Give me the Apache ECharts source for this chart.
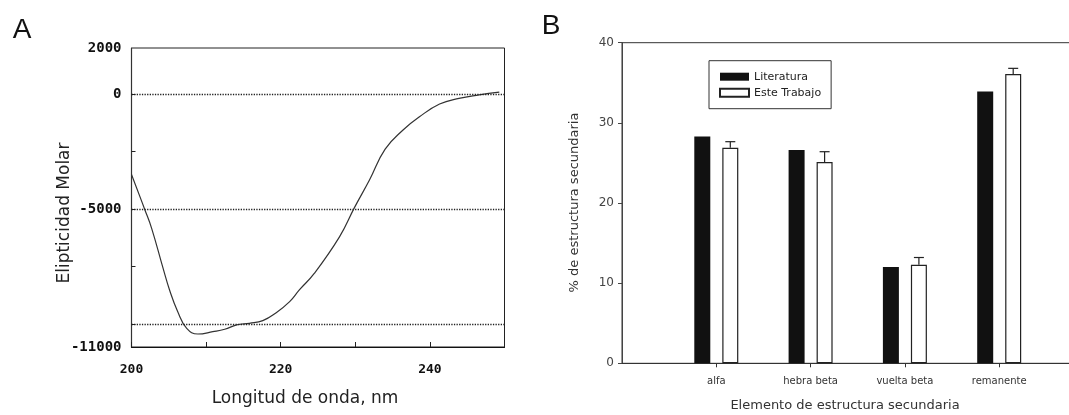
<!DOCTYPE html>
<html>
<head>
<meta charset="utf-8">
<script src="https://cdn.jsdelivr.net/npm/echarts@6/dist/echarts.min.js"></script>
<style>
  html, body { margin: 0; padding: 0; background: #fff; }
  #chart { width: 1069px; height: 415px; }
</style>
</head>
<body>
<div id="chart"></div>
<script>
// Panel A: circular dichroism spectrum
const wavelength = [200, 201.8, 202.7, 204.2, 205.1, 206.2, 207.4, 208.9, 210.9, 212.5, 214.1, 215.8, 217.6, 219.4, 221.2, 222.5, 224.5, 227.9, 229.9, 231.9, 234.0, 236.4, 238.6, 241.3, 243.9, 246.6, 249.3];
const ellipticity = [-3500, -5040, -5840, -7540, -8520, -9465, -10190, -10435, -10335, -10230, -10040, -9970, -9855, -9510, -9030, -8520, -7800, -6200, -4930, -3740, -2400, -1565, -990, -435, -190, -40, 80];
const spectrumYLabels = [2000, 0, -5000, -11000];
const spectrumYTicks = [0, -2500, -5000, -7500, -10000];
const spectrumXLabels = [200, 220, 240];
const referenceLevels = [0, -5000, -10000];

// Panel B: secondary structure content
const structures = ['alfa', 'hebra beta', 'vuelta beta', 'remanente'];
const literatura = [28.3, 26.6, 12.0, 33.9];
const esteTrabajo = [26.9, 25.1, 12.3, 36.1];
const esteTrabajoErr = [0.75, 1.3, 0.9, 0.7];

// category slots padded with an empty slot at each end
const slots = [''].concat(structures, ['']);
const pad = arr => [null].concat(arr, [null]);
const errData = structures.map((s, i) => [i + 1, esteTrabajo[i], esteTrabajoErr[i]]);

const BAR_W = 16, BAR_GAP = 12;
const whiteOffset = (BAR_W + BAR_GAP) / 2;

const monoBold = { fontFamily: 'DejaVu Sans Mono', fontWeight: 'bold', color: '#111', formatter: v => String(v) };

const chart = echarts.init(document.getElementById('chart'), null, { renderer: 'canvas' });

chart.setOption({
  backgroundColor: '#ffffff',
  animation: false,
  grid: [
    { left: 131.5, top: 48, width: 373, height: 299, show: true, borderColor: '#222', borderWidth: 1, backgroundColor: 'transparent', outerBoundsMode: 'none', containLabel: false },
    { left: 622, top: 42.7, width: 471.5, height: 320.6, show: true, borderColor: '#333', borderWidth: 1, backgroundColor: 'transparent', outerBoundsMode: 'none', containLabel: false }
  ],
  xAxis: [
    {
      type: 'value', gridIndex: 0, min: 200, max: 250, interval: 10,
      axisLine: { show: true, onZero: false, lineStyle: { color: '#111', width: 1.2 } },
      axisTick: { show: true, inside: true, length: 5, lineStyle: { color: '#222' } },
      axisLabel: { customValues: spectrumXLabels, margin: 16, fontSize: 13, ...monoBold },
      splitLine: { show: false }
    },
    {
      type: 'category', gridIndex: 1, data: slots, boundaryGap: false,
      axisLine: { show: true, onZero: false, lineStyle: { color: '#333', width: 1 } },
      axisTick: { show: true, length: 4, interval: (i) => i > 0 && i < slots.length - 1, lineStyle: { color: '#333' } },
      axisLabel: { interval: 0, margin: 13, fontSize: 10, fontFamily: 'DejaVu Sans', color: '#333' },
      splitLine: { show: false }
    }
  ],
  yAxis: [
    {
      type: 'value', gridIndex: 0, min: -11000, max: 2000,
      axisLine: { show: true, onZero: false, lineStyle: { color: '#333', width: 1.2 } },
      axisTick: { show: true, inside: true, length: 4, customValues: spectrumYTicks, lineStyle: { color: '#222' } },
      axisLabel: { customValues: spectrumYLabels, margin: 10, fontSize: 14, ...monoBold },
      splitLine: { show: false }
    },
    {
      type: 'value', gridIndex: 1, min: 0, max: 40, interval: 10,
      axisLine: { show: true, onZero: false, lineStyle: { color: '#444', width: 1 } },
      axisTick: { show: true, length: 4, lineStyle: { color: '#444' } },
      axisLabel: { margin: 8, fontSize: 12, fontFamily: 'DejaVu Sans', color: '#444' },
      splitLine: { show: false }
    }
  ],
  legend: {
    data: ['Literatura', 'Este Trabajo'],
    orient: 'vertical',
    left: 709, top: 60.7,
    padding: [10, 10, 10, 10],
    itemGap: 4,
    itemWidth: 29, itemHeight: 8,
    icon: 'rect',
    borderColor: '#333', borderWidth: 1,
    textStyle: { fontFamily: 'DejaVu Sans', fontSize: 11, color: '#222', lineHeight: 12 }
  },
  series: [
    {
      type: 'line', xAxisIndex: 0, yAxisIndex: 0,
      data: wavelength.map((w, i) => [w, ellipticity[i]]),
      smooth: 0.45, showSymbol: false,
      lineStyle: { color: '#333', width: 1.2 },
      markLine: {
        silent: true, symbol: 'none', label: { show: false },
        lineStyle: { type: 'dotted', color: '#222', width: 1.3 },
        data: referenceLevels.map(v => ({ yAxis: v }))
      },
      z: 3
    },
    {
      name: 'Literatura', type: 'bar', xAxisIndex: 1, yAxisIndex: 1,
      data: pad(literatura), barWidth: BAR_W, barGap: (BAR_GAP / BAR_W * 100) + '%',
      itemStyle: { color: '#111', borderColor: '#111', borderWidth: 0 }
    },
    {
      name: 'Este Trabajo', type: 'bar', xAxisIndex: 1, yAxisIndex: 1,
      data: pad(esteTrabajo), barWidth: BAR_W,
      itemStyle: { color: '#fff', borderColor: '#222', borderWidth: 1.2 }
    },
    {
      type: 'custom', xAxisIndex: 1, yAxisIndex: 1,
      data: errData,
      encode: { x: 0, y: 1 },
      renderItem: function (params, api) {
        const cat = api.value(0), v = api.value(1), e = api.value(2);
        const base = api.coord([cat, v]);
        const top = api.coord([cat, v + e]);
        const x = base[0] + whiteOffset;
        const style = { stroke: '#222', lineWidth: 1.2 };
        return {
          type: 'group',
          children: [
            { type: 'line', shape: { x1: x, y1: base[1], x2: x, y2: top[1] }, style: style },
            { type: 'line', shape: { x1: x - 5, y1: top[1], x2: x + 5, y2: top[1] }, style: style }
          ]
        };
      },
      z: 4
    }
  ],
  graphic: [
    { type: 'text', x: 22, y: 30, style: { text: 'A', font: '28px "Liberation Sans"', fill: '#111', align: 'center', verticalAlign: 'middle' } },
    { type: 'text', x: 551, y: 26, style: { text: 'B', font: '28px "Liberation Sans"', fill: '#111', align: 'center', verticalAlign: 'middle' } },
    { type: 'text', x: 305, y: 399, style: { text: 'Longitud de onda, nm', font: '17px "DejaVu Sans"', fill: '#222', align: 'center', verticalAlign: 'middle' } },
    { type: 'text', x: 65, y: 213, rotation: Math.PI / 2, style: { text: 'Elipticidad Molar', font: '17px "DejaVu Sans"', fill: '#222', align: 'center', verticalAlign: 'middle' } },
    { type: 'text', x: 845, y: 406, style: { text: 'Elemento de estructura secundaria', font: '13px "DejaVu Sans"', fill: '#333', align: 'center', verticalAlign: 'middle' } },
    { type: 'text', x: 575, y: 202.5, rotation: Math.PI / 2, style: { text: '% de estructura secundaria', font: '13px "DejaVu Sans"', fill: '#333', align: 'center', verticalAlign: 'middle' } }
  ]
});
</script>
</body>
</html>
